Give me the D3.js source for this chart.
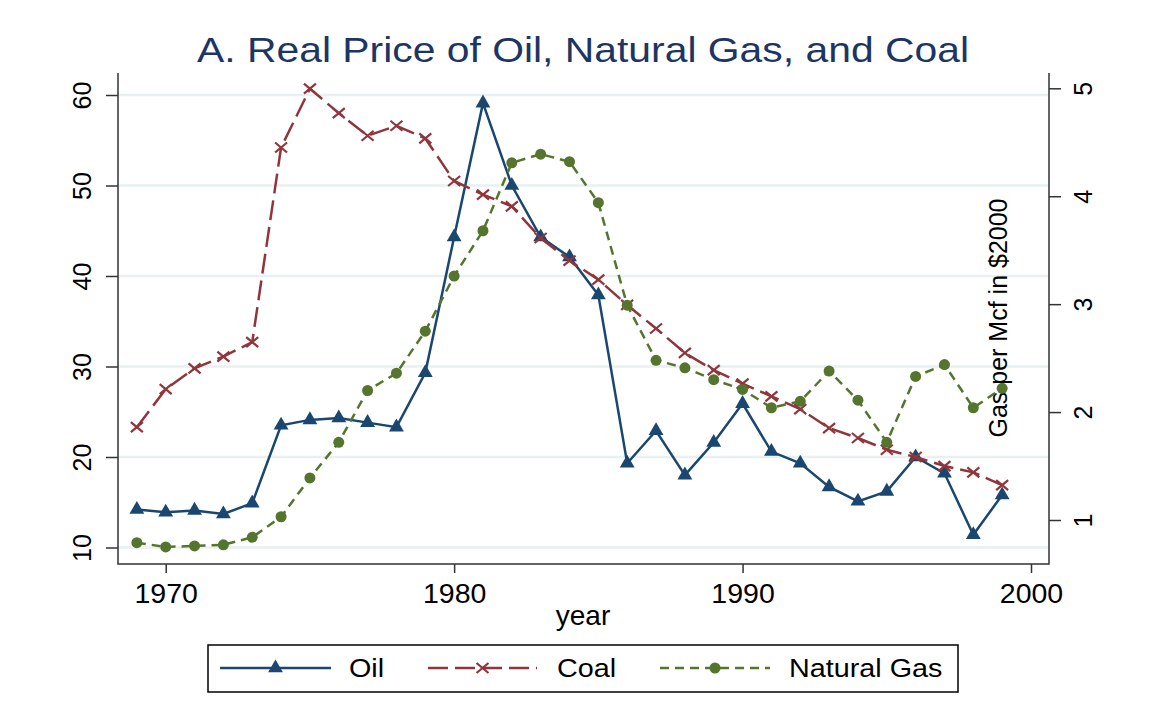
<!DOCTYPE html>
<html>
<head>
<meta charset="utf-8">
<script src="https://cdn.jsdelivr.net/npm/d3@7"></script>
<style>
  body { margin: 0; background: #fff; }
  text { font-family: "Liberation Sans", Arial, sans-serif; }
</style>
</head>
<body>
<div id="chart"></div>
<script>
const years = [1969, 1970, 1971, 1972, 1973, 1974, 1975, 1976, 1977, 1978, 1979,
  1980, 1981, 1982, 1983, 1984, 1985, 1986, 1987, 1988, 1989,
  1990, 1991, 1992, 1993, 1994, 1995, 1996, 1997, 1998, 1999];

// left axis, $ per barrel / ton
const oil = [14.2, 13.9, 14.1, 13.7, 14.9, 23.5, 24.1, 24.3, 23.8, 23.3, 29.3,
  44.3, 59.1, 50.0, 44.3, 42.1, 37.9, 19.3, 22.9, 18.0, 21.6,
  25.9, 20.6, 19.3, 16.7, 15.1, 16.2, 20.0, 18.2, 11.4, 15.8];
const coal = [23.3, 27.5, 29.8, 31.1, 32.7, 54.2, 60.7, 58.0, 55.5, 56.6, 55.2,
  50.5, 49.0, 47.7, 44.2, 41.7, 39.6, 36.8, 34.2, 31.5, 29.6,
  28.1, 26.7, 25.3, 23.2, 22.1, 20.8, 20.0, 19.0, 18.3, 16.9];
// right axis, gas per Mcf
const gas = [0.79, 0.75, 0.76, 0.77, 0.84, 1.03, 1.39, 1.72, 2.20, 2.36, 2.75,
  3.26, 3.68, 4.31, 4.39, 4.32, 3.94, 2.99, 2.48, 2.41, 2.30,
  2.21, 2.04, 2.10, 2.38, 2.11, 1.72, 2.33, 2.44, 2.04, 2.22];

const xTicks = [1970, 1980, 1990, 2000];
const leftTicks = [10, 20, 30, 40, 50, 60];
const rightTicks = [1, 2, 3, 4, 5];

const width = 1161;
const height = 726;
const plot = { left: 118, right: 1049, top: 73, bottom: 564 };

const navy = "#1a476f";
const maroon = "#90353b";
const green = "#55752f";

const svg = d3.select("#chart").append("svg")
  .attr("width", width)
  .attr("height", height);

const x = d3.scaleLinear().domain([1970, 2000]).range([165.7, 1031]);
const yL = d3.scaleLinear().domain([10, 60]).range([547.5, 95]);
const yR = d3.scaleLinear().domain([1, 5]).range([520, 88.3]);

// title
svg.append("text")
  .attr("transform", `translate(583,62) scale(1.135,1)`)
  .attr("text-anchor", "middle")
  .attr("font-size", "36px")
  .attr("fill", "#1c3563")
  .text("A. Real Price of Oil, Natural Gas, and Coal");

// gridlines
svg.append("g").selectAll("line")
  .data(leftTicks)
  .enter().append("line")
  .attr("x1", plot.left)
  .attr("x2", plot.right)
  .attr("y1", d => yL(d))
  .attr("y2", d => yL(d))
  .attr("stroke", "#e8f0f2")
  .attr("stroke-width", 2.5);

// axes
const axisL = svg.append("g")
  .attr("transform", `translate(${plot.left},0)`)
  .call(d3.axisLeft(yL).tickValues(leftTicks).tickSize(12).tickSizeOuter(0));
axisL.selectAll("text")
  .attr("x", 0).attr("y", 0).attr("dy", 0)
  .attr("transform", "translate(-27,0) rotate(-90)")
  .attr("text-anchor", "middle");

const axisR = svg.append("g")
  .attr("transform", `translate(${plot.right},0)`)
  .call(d3.axisRight(yR).tickValues(rightTicks).tickFormat(d3.format("d")).tickSize(12).tickSizeOuter(0));
axisR.selectAll("text")
  .attr("x", 0).attr("y", 0).attr("dy", 0)
  .attr("transform", "translate(43,0) rotate(-90)")
  .attr("text-anchor", "middle");

const axisB = svg.append("g")
  .attr("transform", `translate(0,${plot.bottom})`)
  .call(d3.axisBottom(x).tickValues(xTicks).tickFormat(d3.format("d")).tickSize(9).tickSizeOuter(0));
axisB.selectAll("text")
  .attr("y", 39).attr("dy", 0)
  .attr("font-size", "28.5px");

[axisL, axisR, axisB].forEach(g => {
  g.select(".domain").remove();
  g.selectAll(".tick line").attr("stroke", "#333").attr("stroke-width", 1.5);
});
axisL.selectAll("text").attr("font-size", "25px").attr("fill", "#000");
axisR.selectAll("text").attr("font-size", "25px").attr("fill", "#000");
axisB.selectAll("text").attr("fill", "#000");

svg.append("path")
  .attr("d", `M${plot.left},${plot.top}V${plot.bottom}H${plot.right}V${plot.top}`)
  .attr("fill", "none")
  .attr("stroke", "#333")
  .attr("stroke-width", 1.5);

// axis titles
svg.append("text")
  .attr("x", 583)
  .attr("y", 625)
  .attr("text-anchor", "middle")
  .attr("font-size", "28px")
  .text("year");

svg.append("text")
  .attr("transform", "translate(1007,318) rotate(-90)")
  .attr("text-anchor", "middle")
  .attr("font-size", "25px")
  .text("Gas per Mcf in $2000");

// series
const series = [
  { name: "Oil", values: oil, y: yL, color: navy, dash: null, marker: "triangle" },
  { name: "Coal", values: coal, y: yL, color: maroon, dash: "20,7", marker: "x" },
  { name: "Natural Gas", values: gas, y: yR, color: green, dash: "9,6", marker: "circle" }
];

function drawMarker(g, type, color) {
  if (type === "triangle") {
    g.append("path").attr("d", d3.symbol(d3.symbolTriangle).size(95)()).attr("fill", color);
  } else if (type === "circle") {
    g.append("circle").attr("r", 5.5).attr("fill", color);
  } else {
    g.append("path").attr("d", "M-6,-5L6,5M-6,5L6,-5")
      .attr("stroke", color).attr("stroke-width", 2.2).attr("fill", "none");
  }
}

series.forEach(s => {
  const line = d3.line()
    .x((d, i) => x(years[i]))
    .y(d => s.y(d));

  svg.append("path")
    .datum(s.values)
    .attr("d", line)
    .attr("fill", "none")
    .attr("stroke", s.color)
    .attr("stroke-width", 2.5)
    .attr("stroke-dasharray", s.dash);

  svg.append("g").selectAll("g")
    .data(s.values)
    .enter().append("g")
    .attr("transform", (d, i) => `translate(${x(years[i])},${s.y(d)})`)
    .each(function () { drawMarker(d3.select(this), s.marker, s.color); });
});

// legend
const legend = svg.append("g");
legend.append("rect")
  .attr("x", 208).attr("y", 645)
  .attr("width", 750).attr("height", 47)
  .attr("fill", "#fff")
  .attr("stroke", "#000")
  .attr("stroke-width", 1.5);

const legendPos = [
  { x1: 220, x2: 331, tx: 349 },
  { x1: 428, x2: 537, tx: 557 },
  { x1: 660, x2: 770, tx: 789 }
];

series.forEach((s, i) => {
  const p = legendPos[i];
  const ly = 668;
  legend.append("line")
    .attr("x1", p.x1).attr("x2", p.x2)
    .attr("y1", ly).attr("y2", ly)
    .attr("stroke", s.color)
    .attr("stroke-width", 2.5)
    .attr("stroke-dasharray", s.dash);
  const m = legend.append("g").attr("transform", `translate(${(p.x1 + p.x2) / 2},${ly})`);
  drawMarker(m, s.marker, s.color);
  legend.append("text")
    .attr("transform", `translate(${p.tx},${ly + 9}) scale(1.15,1)`)
    .attr("font-size", "25px")
    .text(s.name);
});
</script>
</body>
</html>
